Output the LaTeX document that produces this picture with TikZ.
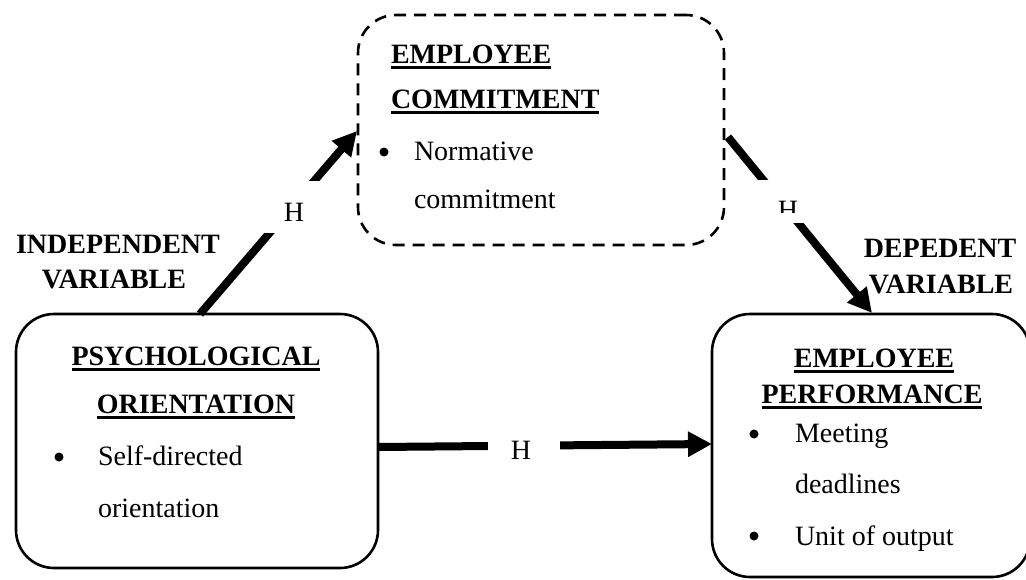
\documentclass[tikz,border=0pt]{standalone}
\usepackage{fontspec}
\setmainfont{Liberation Serif}
\usetikzlibrary{arrows.meta}
\newcommand\ulx[1]{\vtop{\hbox{#1}\kern3pt\hrule height 2.4pt}}
\begin{document}
\begin{tikzpicture}[x=1pt,y=-1pt,
  txt/.style={font=\fontsize{28}{34}\selectfont, inner sep=0pt, outer sep=0pt},
  hd/.style={font=\fontsize{28}{34}\selectfont\bfseries, inner sep=0pt, outer sep=0pt},
  bul/.style={circle, fill, inner sep=0pt, minimum size=9pt},
  box/.style={draw, line width=2.6pt, rounded corners=38pt, inner sep=0pt},
  dbox/.style={box, dash pattern=on 12pt off 8pt},
  conn/.style={line width=8pt, -{Triangle[length=24pt,width=24pt]}},
  gap/.style={fill=white, draw=none, inner sep=0pt}]
\useasboundingbox (0,0) rectangle (1026,579);
% boxes
\node[box, minimum width=362pt, minimum height=254pt] (psy) at (197,441) {};
\node[box, minimum width=318pt, minimum height=263pt] (perf) at (871,445.5) {};
\node[dbox, minimum width=366pt, minimum height=230pt] (com) at (541,130) {};
% connector end points on the box borders
\coordinate (psyTop) at (200,314);
\coordinate (comL) at (357,131);
\coordinate (comR) at (728,137);
\coordinate (perfTop) at (872,313);
\coordinate (psyR) at (378,447);
\coordinate (perfL) at (712,444);
\draw[conn] (psyTop) -- (comL);
\draw[conn] (comR) -- (perfTop);
\draw[conn] (psyR) -- (perfL);
% gaps in the connectors
\node[gap, minimum width=75pt, minimum height=52pt] (gapL) at (292.5,207) {};
\node[gap, minimum width=72pt, minimum height=45pt] (gapH) at (524,447) {};
\node[gap, minimum width=55pt, minimum height=43pt] (gapR) at (782.5,201.5) {};
\node[txt, anchor=base] (hL) at (294,221) {H};
\node[txt, anchor=base] (hH) at (521,459) {H};
\begin{scope}
\clip (768,190) rectangle (808,212);
\node[txt, anchor=base] (hR) at (788,219) {H};
\end{scope}
% left box text
\node[hd, anchor=base] (psyT1) at (196,365) {\ulx{PSYCHOLOGICAL}};
\node[hd, anchor=base] (psyT2) at (196,413) {\ulx{ORIENTATION}};
\node[bul] (psyB) at (59,457) {};
\node[txt, anchor=base west] (psyI1) at (98,465) {Self-directed};
\node[txt, anchor=base west] (psyI2) at (98,517) {orientation};
% right box text
\node[hd, anchor=base] (perfT1) at (874,367) {\ulx{EMPLOYEE}};
\node[hd, anchor=base] (perfT2) at (872,403) {\ulx{PERFORMANCE}};
\node[bul] (perfB1) at (754,434) {};
\node[txt, anchor=base west] (perfI1) at (795,442) {Meeting};
\node[txt, anchor=base west] (perfI2) at (795,493) {deadlines};
\node[bul] (perfB2) at (754,536) {};
\node[txt, anchor=base west] (perfI3) at (795,545) {Unit of output};
% dashed box text
\node[hd, anchor=base west] (comT1) at (391,63) {\ulx{EMPLOYEE}};
\node[hd, anchor=base west] (comT2) at (391,108) {\ulx{COMMITMENT}};
\node[bul] (comB) at (384,152) {};
\node[txt, anchor=base west] (comI1) at (414,160) {Normative};
\node[txt, anchor=base west] (comI2) at (414,208) {commitment};
% outer labels
\node[hd, anchor=base] (ivT1) at (118,253) {INDEPENDENT};
\node[hd, anchor=base] (ivT2) at (114,288) {VARIABLE};
\node[hd, anchor=base] (dvT1) at (940,257) {DEPEDENT};
\node[hd, anchor=base] (dvT2) at (941,293) {VARIABLE};
\end{tikzpicture}
\end{document}
